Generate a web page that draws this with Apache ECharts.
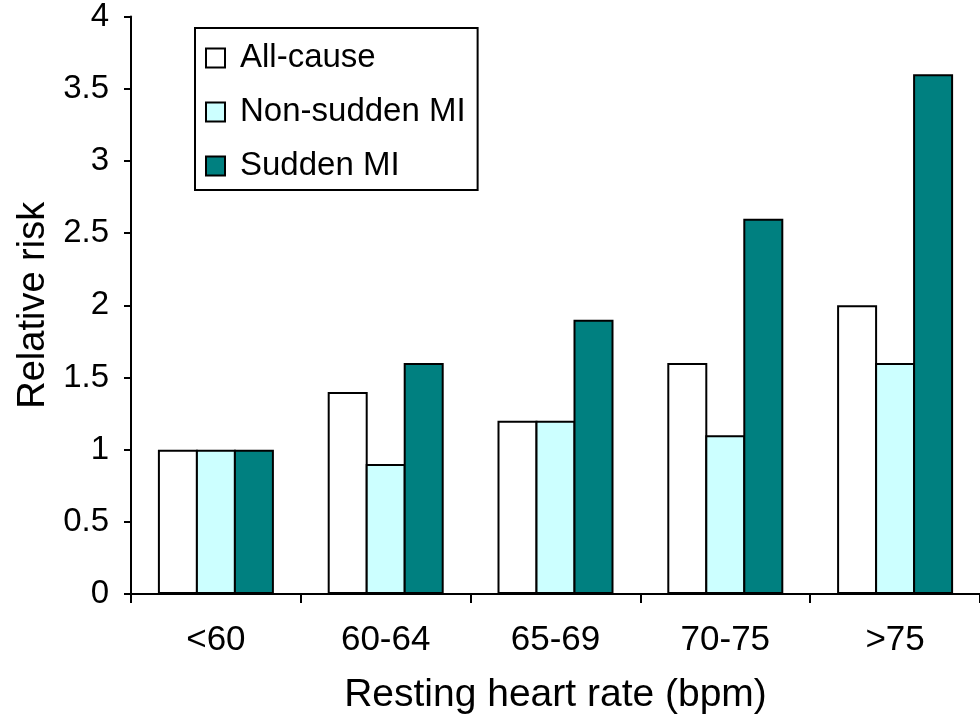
<!DOCTYPE html>
<html>
<head>
<meta charset="utf-8">
<script src="https://cdn.jsdelivr.net/npm/echarts@6/dist/echarts.min.js"></script>
<style>html,body{margin:0;padding:0;background:#fff}#c{width:980px;height:723px}</style>
</head>
<body>
<div id="c"></div>
<script>
const categories = ['<60', '60-64', '65-69', '70-75', '>75'];
const allCause = [1.0, 1.4, 1.2, 1.6, 2.0];
const nonSuddenMI = [1.0, 0.9, 1.2, 1.1, 1.6];
const suddenMI = [1.0, 1.6, 1.9, 2.6, 3.6];
const seriesNames = ['All-cause', 'Non-sudden MI', 'Sudden MI'];
const seriesColors = ['#ffffff', '#ccffff', '#008080'];
const font = 'Liberation Sans, Arial, sans-serif';

const chart = echarts.init(document.getElementById('c'), null, {renderer: 'canvas'});
const dataSets = [allCause, nonSuddenMI, suddenMI];
chart.setOption({
  animation: false,
  backgroundColor: '#ffffff',
  textStyle: {fontFamily: font, color: '#000'},
  grid: {left: 131, top: 16, bottom: 129, right: -9, containLabel: false},
  legend: {
    orient: 'vertical',
    left: 195, top: 28,
    padding: [12, 12, 6, 10],
    itemGap: 18,
    itemWidth: 19, itemHeight: 19,
    icon: 'rect',
    borderColor: '#000', borderWidth: 2,
    backgroundColor: '#fff',
    textStyle: {fontFamily: font, fontSize: 33, color: '#000', lineHeight: 36, padding: [0, 0, 0, 10]},
    data: seriesNames
  },
  xAxis: {
    type: 'category',
    data: categories,
    name: 'Resting heart rate (bpm)',
    nameLocation: 'middle',
    nameGap: 82,
    nameTextStyle: {fontFamily: font, fontSize: 39, color: '#000'},
    axisLine: {show: true, lineStyle: {color: '#000', width: 2}},
    axisTick: {show: true, inside: false, length: 9, lineStyle: {color: '#000', width: 2}},
    axisLabel: {fontFamily: font, fontSize: 35, color: '#000', margin: 29},
    splitLine: {show: false}
  },
  yAxis: {
    type: 'value',
    min: 0, max: 4, interval: 0.5,
    name: 'Relative risk',
    nameLocation: 'middle',
    nameGap: 70,
    nameTextStyle: {fontFamily: font, fontSize: 38, color: '#000'},
    axisLine: {show: true, lineStyle: {color: '#000', width: 2}},
    axisTick: {show: true, inside: false, length: 7, lineStyle: {color: '#000', width: 2}},
    axisLabel: {fontFamily: font, fontSize: 33, color: '#000', margin: 22},
    splitLine: {show: false}
  },
  series: seriesNames.map((n, i) => ({
    name: n,
    type: 'bar',
    data: dataSets[i],
    barWidth: 40,
    barGap: '-5%',
    itemStyle: {color: seriesColors[i], borderColor: '#000', borderWidth: 2}
  }))
});
</script>
</body>
</html>
